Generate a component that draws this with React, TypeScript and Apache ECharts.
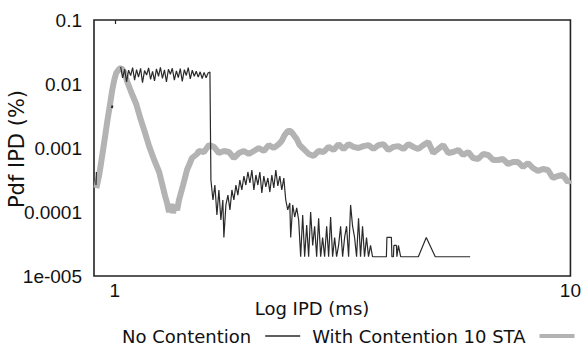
import React, { useEffect, useRef } from "react";
import * as echarts from "echarts";

const xTickValues = [1, 10];
const xTickLabels = ["1", "10"];
const yTickValues = [0.00001, 0.0001, 0.001, 0.01, 0.1];
const yTickLabels = ["1e-005", "0.0001", "0.001", "0.01", "0.1"];

const seriesNames = ["No Contention", "With Contention 10 STA"];

// No Contention: short first segment, an isolated dot, then the main curve
const noContentionStart = [
  [0.909, 0.000264], [0.911, 0.000422],
];
const noContentionDot = [
  [0.985, 0.0042], [0.988, 0.0046],
];
const noContentionMain = [
  [1.030, 0.0185], [1.040, 0.0125], [1.051, 0.017], [1.061, 0.0108], [1.072, 0.0165],
  [1.083, 0.0135], [1.094, 0.018], [1.105, 0.0115], [1.116, 0.0168], [1.127, 0.0128],
  [1.139, 0.0175], [1.150, 0.0105], [1.162, 0.0162], [1.174, 0.0138], [1.186, 0.0178],
  [1.198, 0.0118], [1.210, 0.0158], [1.222, 0.0112], [1.234, 0.0172], [1.247, 0.0132],
  [1.259, 0.0182], [1.272, 0.0122], [1.285, 0.0166], [1.298, 0.0108], [1.311, 0.017],
  [1.324, 0.0142], [1.337, 0.0176], [1.351, 0.0115], [1.365, 0.016], [1.378, 0.0126],
  [1.392, 0.0174], [1.406, 0.011], [1.421, 0.0168], [1.435, 0.0136], [1.449, 0.018],
  [1.464, 0.012], [1.479, 0.0164], [1.494, 0.0132], [1.509, 0.0158], [1.524, 0.0128],
  [1.539, 0.0155], [1.555, 0.0122], [1.570, 0.0152], [1.586, 0.0125], [1.602, 0.0148],
  [1.617, 0.0154], [1.625, 0.000316], [1.642, 0.000154], [1.658, 0.000264], [1.675, 0.00009],
  [1.692, 0.000221], [1.709, 0.000075], [1.726, 0.000154], [1.735, 0.00004], [1.753, 0.000129],
  [1.771, 0.000184], [1.789, 0.000108], [1.807, 0.000221], [1.825, 0.000154], [1.844, 0.000264],
  [1.862, 0.000184], [1.881, 0.000316], [1.900, 0.000221], [1.920, 0.000365], [1.939, 0.000264],
  [1.959, 0.000422], [1.979, 0.000284], [1.999, 0.000453], [2.019, 0.000221], [2.040, 0.000379],
  [2.060, 0.000264], [2.081, 0.000422], [2.102, 0.000198], [2.123, 0.000365], [2.145, 0.000246],
  [2.167, 0.00034], [2.189, 0.000205], [2.211, 0.000379], [2.233, 0.000237], [2.256, 0.000453],
  [2.279, 0.000255], [2.302, 0.000365], [2.325, 0.000221], [2.349, 0.00034], [2.372, 0.000154],
  [2.396, 0.000108], [2.421, 0.000138], [2.432, 0.00004], [2.457, 0.000129], [2.482, 0.0000835],
  [2.507, 0.000116], [2.532, 0.000075], [2.558, 0.00002], [2.584, 0.00009], [2.610, 0.00002],
  [2.637, 0.0000627], [2.663, 0.00002], [2.690, 0.0001], [2.718, 0.00003], [2.745, 0.00006],
  [2.773, 0.00002], [2.801, 0.00008], [2.830, 0.00002], [2.858, 0.00004], [2.887, 0.00002],
  [2.917, 0.00006], [2.946, 0.00002], [2.976, 0.0000835], [3.006, 0.00002], [3.037, 0.00004],
  [3.067, 0.00002], [3.098, 0.00003], [3.130, 0.00006], [3.162, 0.00002], [3.194, 0.00004],
  [3.226, 0.00006], [3.259, 0.00002], [3.292, 0.000129], [3.325, 0.00006], [3.359, 0.00004],
  [3.393, 0.00002], [3.427, 0.00008], [3.462, 0.00002], [3.497, 0.00006], [3.532, 0.00002],
  [3.568, 0.00004], [3.604, 0.00002], [3.641, 0.00003], [3.678, 0.00002], [3.945, 0.00002],
  [3.955, 0.00004], [4.046, 0.00004], [4.056, 0.00002], [4.087, 0.00002], [4.097, 0.00003],
  [4.150, 0.00003], [4.160, 0.00002], [4.192, 0.00003], [4.240, 0.00002], [4.636, 0.00002],
  [4.826, 0.00004], [5.050, 0.00002], [6.025, 0.00002],
];

const withContention = [
  [0.911, 0.000237], [0.924, 0.000379], [0.9385, 0.000778], [0.953, 0.0016], [0.962, 0.00255],
  [0.977, 0.00505], [0.987, 0.00805], [0.997, 0.01155], [1.007, 0.01485], [1.022, 0.01715],
  [1.033, 0.01778], [1.049, 0.0154], [1.065, 0.01075], [1.086, 0.0075], [1.114, 0.00487],
  [1.137, 0.00294], [1.165, 0.00172], [1.189, 0.00107], [1.220, 0.000649], [1.251, 0.000422],
  [1.270, 0.000274], [1.289, 0.000178], [1.302, 0.000138], [1.315, 0.0001], [1.329, 0.000133],
  [1.342, 0.0000965], [1.356, 0.000129], [1.370, 0.000107], [1.383, 0.000154], [1.412, 0.000264],
  [1.440, 0.000453], [1.477, 0.000698], [1.515, 0.000806], [1.530, 0.000898], [1.569, 0.000866],
  [1.609, 0.00111], [1.650, 0.00104], [1.692, 0.000835], [1.735, 0.000898], [1.780, 0.000866],
  [1.825, 0.000698], [1.872, 0.000835], [1.919, 0.000898], [1.968, 0.000806], [2.019, 0.000898],
  [2.070, 0.001], [2.123, 0.000898], [2.177, 0.00111], [2.233, 0.001], [2.290, 0.00115],
  [2.324, 0.00129], [2.360, 0.0016], [2.396, 0.00184], [2.432, 0.00184], [2.469, 0.0016],
  [2.507, 0.00138], [2.545, 0.00111], [2.597, 0.000965], [2.663, 0.000806], [2.731, 0.00075],
  [2.801, 0.000898], [2.872, 0.000866], [2.945, 0.00104], [3.021, 0.000931], [3.098, 0.00115],
  [3.177, 0.000965], [3.258, 0.00115], [3.341, 0.00104], [3.426, 0.001], [3.513, 0.00107],
  [3.603, 0.00111], [3.695, 0.000965], [3.789, 0.00111], [3.886, 0.00115], [3.985, 0.000931],
  [4.087, 0.00104], [4.191, 0.00107], [4.298, 0.000965], [4.408, 0.00115], [4.520, 0.00104],
  [4.635, 0.000965], [4.753, 0.00111], [4.875, 0.00124], [4.999, 0.000835], [5.127, 0.000965],
  [5.258, 0.00111], [5.392, 0.000835], [5.529, 0.000866], [5.670, 0.000931], [5.815, 0.000778],
  [5.963, 0.000866], [6.115, 0.000698], [6.272, 0.000673], [6.432, 0.000806], [6.596, 0.000778],
  [6.764, 0.000649], [6.937, 0.000649], [7.114, 0.000673], [7.295, 0.000562], [7.481, 0.000604],
  [7.672, 0.000604], [7.868, 0.000505], [8.068, 0.000583], [8.274, 0.000487], [8.485, 0.000437],
  [8.702, 0.00047], [8.924, 0.000453], [9.151, 0.00034], [9.385, 0.000365], [9.624, 0.000379],
  [9.870, 0.000294], [10, 0.000316],
];

const BLACK = "#2a2a2a";
const GRAY = "#b3b3b3";
const TICK_FONT = "Liberation Sans";
const TITLE_FONT = "DejaVu Sans";

function labelFor(values: number[], labels: string[], v: number): string {
  for (let i = 0; i < values.length; i++) {
    if (Math.abs(Math.log10(v) - Math.log10(values[i])) < 1e-6) return labels[i];
  }
  return "";
}

export default function App() {
  const ref = useRef<HTMLDivElement>(null);
  useEffect(() => {
    if (!ref.current) return;
    const chart = echarts.init(ref.current, undefined, { renderer: "svg" });
    const blackLine = { color: BLACK, width: 1.2 };
    chart.setOption({
      animation: false,
      backgroundColor: "#ffffff",
      grid: {
        left: 94,
        right: 11,
        top: 20,
        bottom: 73,
        show: true,
        borderColor: "#222",
        borderWidth: 1.6,
        backgroundColor: "transparent",
      },
      xAxis: [
        {
          type: "log",
          logBase: 10,
          min: 0.9,
          max: 10,
          axisLine: { show: false },
          axisTick: { show: false },
          splitLine: { show: false },
          axisLabel: {
            customValues: xTickValues,
            margin: 5,
            color: "#111",
            fontFamily: TICK_FONT,
            fontSize: 19,
            formatter: (v: number) => labelFor(xTickValues, xTickLabels, v),
          },
        },
        {
          type: "log",
          logBase: 10,
          min: 0.9,
          max: 10,
          position: "top",
          axisLine: { show: false },
          axisTick: {
            show: true,
            inside: true,
            length: 4,
            customValues: [1],
            lineStyle: { color: "#222", width: 1.2 },
          },
          axisLabel: { show: false },
          splitLine: { show: false },
        },
      ],
      yAxis: {
        type: "log",
        logBase: 10,
        min: 0.00001,
        max: 0.1,
        axisLine: { show: false },
        axisTick: { show: false },
        splitLine: { show: false },
        axisLabel: {
          customValues: yTickValues,
          margin: 12,
          color: "#111",
          fontFamily: TICK_FONT,
          fontSize: 19,
          formatter: (v: number) => labelFor(yTickValues, yTickLabels, v),
        },
      },
      legend: {
        left: 122,
        top: 327,
        width: 700,
        orient: "horizontal",
        align: "right",
        itemWidth: 35,
        itemHeight: 14,
        itemGap: 12,
        padding: 0,
        selectedMode: false,
        itemStyle: { borderWidth: 0 },
        textStyle: {
          fontFamily: TITLE_FONT,
          fontSize: 18,
          color: "#111",
          padding: [0, 9, 0, 0],
        },
        data: [
          { name: seriesNames[0], icon: "path://M0,0H35V1.5H0Z" },
          { name: seriesNames[1], icon: "path://M0,0H35V4H0Z" },
        ],
      },
      graphic: [
        {
          type: "text",
          x: 312,
          y: 308,
          style: {
            text: "Log IPD (ms)",
            fontFamily: TITLE_FONT,
            fontSize: 18,
            fill: "#111",
            align: "center",
            verticalAlign: "middle",
          },
        },
        {
          type: "text",
          x: 17,
          y: 149,
          rotation: Math.PI / 2,
          style: {
            text: "Pdf IPD (%)",
            fontFamily: TITLE_FONT,
            fontSize: 21,
            fill: "#111",
            align: "center",
            verticalAlign: "middle",
          },
        },
      ],
      series: [
        {
          name: seriesNames[1],
          type: "line",
          data: withContention,
          showSymbol: false,
          symbol: "none",
          color: GRAY,
          lineStyle: { color: GRAY, width: 6 },
          z: 2,
        },
        {
          name: seriesNames[0],
          type: "line",
          data: noContentionStart,
          showSymbol: false,
          symbol: "none",
          color: BLACK,
          lineStyle: blackLine,
          z: 3,
        },
        {
          name: seriesNames[0],
          type: "line",
          data: noContentionDot,
          showSymbol: false,
          symbol: "none",
          color: BLACK,
          lineStyle: { color: BLACK, width: 2 },
          z: 3,
        },
        {
          name: seriesNames[0],
          type: "line",
          data: noContentionMain,
          showSymbol: false,
          symbol: "none",
          color: BLACK,
          lineStyle: blackLine,
          z: 3,
        },
      ],
    });
    return () => chart.dispose();
  }, []);
  return (
    <div
      ref={ref}
      style={{ position: "fixed", left: 0, top: 0, width: 584, height: 349 }}
    />
  );
}
